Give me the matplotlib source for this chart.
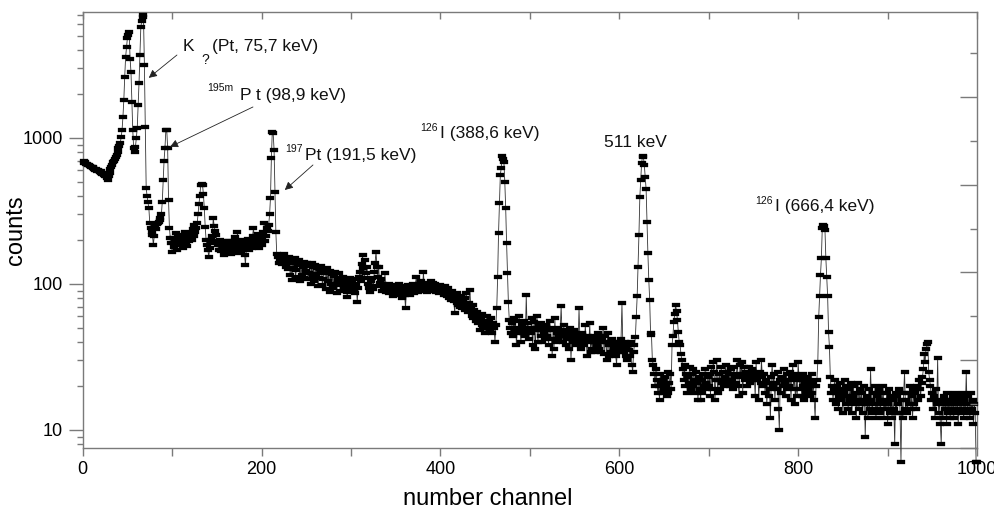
import numpy as np
import matplotlib
matplotlib.use("Agg")
import matplotlib.pyplot as plt
from matplotlib.path import Path
from matplotlib.ticker import LogLocator, NullFormatter, MultipleLocator, FixedLocator

plt.rcParams['font.family'] = ['Liberation Sans', 'DejaVu Sans']

counts = [
    690, 676, 684, 668, 660, 652, 655, 640, 633, 628,
    622, 630, 612, 604, 610, 598, 604, 590, 584, 592,
    578, 570, 576, 560, 552, 545, 532, 518, 548, 576,
    610, 632, 655, 685, 700, 718, 742, 768, 800, 850,
    880, 920, 1010, 1130, 1390, 1820, 2620, 3580, 4200, 4850,
    5100, 5300, 3500, 2830, 1760, 1130, 850, 800, 870, 1000,
    1170, 1680, 2380, 3700, 5750, 6300, 7000, 6700, 3160, 1190,
    455, 400, 365, 330, 262, 242, 228, 216, 185, 212,
    254, 238, 258, 262, 266, 272, 283, 300, 365, 515,
    700, 855, 1130, 1130, 855, 376, 240, 206, 190, 166,
    206, 180, 196, 222, 188, 172, 214, 200, 184, 218,
    196, 176, 208, 226, 192, 204, 182, 216, 198, 210,
    224, 200, 236, 254, 212, 228, 242, 260, 300, 353,
    400, 477, 480, 477, 410, 330, 246, 200, 185, 170,
    153, 176, 191, 200, 214, 283, 250, 230, 216, 196,
    185, 172, 200, 185, 168, 192, 176, 158, 180, 196,
    163, 184, 170, 196, 178, 160, 188, 172, 198, 210,
    182, 164, 227, 190, 176, 200, 168, 184, 172, 194,
    158, 135, 176, 190, 204, 170, 186, 198, 176, 214,
    242, 196, 182, 208, 188, 220, 176, 200, 214, 186,
    206, 226, 262, 196, 214, 242, 230, 254, 300, 390,
    730, 1100, 1080, 830, 425, 227, 160, 153, 140, 158,
    146, 150, 136, 152, 160, 138, 130, 148, 142, 126,
    152, 115, 140, 106, 146, 128, 150, 112, 124, 142,
    134, 146, 104, 138, 115, 130, 142, 110, 136, 122,
    140, 108, 118, 132, 100, 138, 112, 130, 104, 134,
    116, 128, 96, 110, 126, 118, 132, 98, 108, 124,
    120, 92, 128, 104, 118, 88, 122, 100, 116, 94,
    114, 120, 98, 86, 110, 104, 118, 90, 108, 100,
    112, 94, 106, 100, 88, 81, 102, 96, 110, 92,
    104, 98, 90, 108, 86, 100, 75, 94, 112, 120,
    104, 136, 158, 128, 110, 146, 118, 131, 100, 94,
    88, 104, 96, 110, 92, 120, 140, 166, 131, 112,
    130, 102, 96, 108, 90, 100, 94, 119, 88, 98,
    92, 86, 100, 94, 88, 96, 82, 90, 98, 86,
    94, 84, 90, 100, 86, 92, 80, 96, 88, 84,
    68, 92, 86, 98, 90, 84, 96, 88, 100, 92,
    86, 98, 112, 94, 88, 100, 92, 104, 96, 90,
    121, 96, 102, 94, 88, 100, 96, 92, 104, 98,
    90, 102, 94, 100, 88, 96, 92, 86, 98, 90,
    94, 88, 92, 84, 96, 90, 82, 88, 94, 80,
    86, 78, 90, 84, 76, 63, 82, 74, 86, 72,
    78, 70, 82, 68, 76, 72, 66, 80, 87, 70,
    64, 74, 91, 68, 60, 72, 58, 66, 62, 56,
    64, 54, 60, 48, 58, 52, 62, 50, 56, 46,
    54, 60, 50, 56, 48, 52, 58, 46, 54, 50,
    40, 52, 68, 112, 223, 359, 558, 623, 753, 720,
    685, 500, 330, 191, 119, 75, 57, 50, 46, 54,
    44, 58, 48, 56, 38, 50, 46, 60, 48, 40,
    52, 46, 56, 50, 44, 84, 48, 54, 42, 50,
    46, 58, 38, 48, 55, 36, 50, 60, 40, 52,
    48, 44, 54, 40, 50, 46, 42, 52, 44, 48,
    38, 56, 50, 42, 32, 48, 36, 58, 40, 46,
    42, 50, 44, 48, 71, 46, 40, 52, 44, 38,
    48, 42, 46, 36, 50, 30, 44, 40, 48, 42,
    46, 38, 44, 40, 68, 42, 36, 46, 40, 44,
    38, 52, 42, 32, 44, 40, 54, 34, 42, 36,
    44, 40, 34, 42, 38, 46, 36, 40, 44, 34,
    42, 50, 33, 44, 40, 30, 46, 38, 32, 40,
    34, 42, 38, 36, 40, 32, 28, 38, 34, 40,
    36, 42, 74, 38, 34, 40, 32, 36, 30, 38,
    35, 32, 40, 28, 25, 34, 38, 43, 59, 82,
    131, 217, 395, 515, 675, 753, 740, 654, 540, 447,
    266, 163, 107, 78, 46, 45, 30, 28, 24, 20,
    26, 22, 18, 20, 16, 24, 21, 18, 22, 19,
    23, 20, 17, 25, 18, 21, 24, 19, 38, 44,
    55, 62, 72, 65, 57, 47, 40, 38, 33, 30,
    26, 22, 28, 20, 24, 18, 23, 21, 27, 19,
    24, 20, 26, 22, 18, 25, 21, 16, 23, 19,
    16, 22, 18, 24, 20, 26, 21, 19, 23, 20,
    24, 17, 27, 19, 29, 25, 16, 22, 30, 18,
    22, 24, 19, 27, 21, 25, 20, 23, 28, 22,
    25, 21, 24, 20, 26, 22, 19, 27, 23, 21,
    24, 30, 20, 17, 28, 23, 29, 18, 24, 27,
    22, 25, 20, 23, 27, 21, 24, 26, 22, 25,
    23, 17, 29, 22, 24, 16, 25, 21, 30, 23,
    20, 24, 18, 22, 15, 21, 17, 19, 12, 23,
    28, 20, 24, 16, 21, 19, 25, 14, 10, 22,
    18, 23, 20, 26, 21, 17, 24, 19, 22, 20,
    25, 16, 23, 28, 19, 24, 15, 22, 17, 29,
    23, 19, 22, 17, 24, 20, 16, 21, 18, 23,
    19, 22, 17, 20, 24, 18, 21, 16, 12, 20,
    22, 29, 59, 82, 115, 150, 242, 254, 250, 235,
    150, 112, 82, 47, 37, 23, 18, 20, 16, 19,
    22, 15, 18, 20, 14, 17, 21, 16, 19, 13,
    18, 22, 15, 20, 17, 14, 19, 16, 21, 13,
    17, 20, 15, 18, 12, 16, 21, 14, 19, 15,
    18, 13, 16, 20, 9, 15, 17, 12, 19, 14,
    26, 16, 13, 18, 15, 20, 12, 17, 14, 19,
    16, 13, 18, 15, 20, 12, 16, 14, 18, 11,
    15, 19, 13, 17, 12, 16, 14, 8, 18, 13,
    17, 15, 19, 13, 6, 16, 12, 18, 25, 14,
    16, 13, 18, 15, 20, 14, 17, 12, 19, 15,
    18, 14, 20, 16, 22, 19, 17, 21, 23, 26,
    33, 29, 36, 39, 40, 25, 22, 20, 16, 18,
    14, 17, 12, 19, 15, 31, 13, 16, 11, 8,
    15, 12, 17, 14, 16, 11, 18, 13, 15, 12,
    16, 14, 17, 12, 18, 15, 13, 16, 11, 14,
    17, 13, 15, 18, 12, 16, 14, 25, 13, 17,
    15, 12, 18, 14, 16, 11, 15, 13, 6, 6,
]
channels = np.arange(1, len(counts) + 1)

x_ticks = [0, 200, 400, 600, 800, 1000]
y_ticks = [10, 100, 1000]

fig = plt.figure(figsize=(9.95, 5.16), dpi=100)
ax = fig.add_axes([0.0831, 0.1316, 0.8988, 0.8451])

# marcador rectangular algo mas ancho que alto
rect = Path([(-1.5, -1.0), (1.5, -1.0), (1.5, 1.0), (-1.5, 1.0), (-1.5, -1.0)],
            [Path.MOVETO, Path.LINETO, Path.LINETO, Path.LINETO, Path.CLOSEPOLY])

ax.plot(channels, counts, color='#333333', linewidth=0.6, marker=rect,
        markersize=5.2, markerfacecolor='black', markeredgecolor='black',
        markeredgewidth=0.2, clip_on=False, zorder=3)

ax.set_yscale('log')
ax.set_xlim(0, 1000)
ax.set_ylim(7.5, 7290)

ax.set_xticks(x_ticks)
ax.set_xticklabels([str(t) for t in x_ticks])
ax.xaxis.set_minor_locator(MultipleLocator(100))
ax.set_yticks(y_ticks)
ax.set_yticklabels([str(t) for t in y_ticks])
ax.yaxis.set_minor_locator(LogLocator(base=10, subs=np.arange(2, 10)))
ax.yaxis.set_minor_formatter(NullFormatter())

gris = '#7a7a7a'
for s in ax.spines.values():
    s.set_color(gris)
    s.set_linewidth(1.0)

ax.tick_params(axis='y', which='major', direction='out', length=10, width=1.0,
               color=gris, labelsize=13, pad=4, right=False)
ax.tick_params(axis='y', which='minor', direction='out', length=4, width=1.0,
               color=gris, right=False)
ax.tick_params(axis='x', which='both', direction='out', length=6, width=1.0,
               color=gris, labelsize=13, pad=3, top=False)

# ticks superiores (cada 100 canales, hacia dentro)
ax_top = ax.twiny()
ax_top.set_xlim(0, 1000)
ax_top.xaxis.set_major_locator(MultipleLocator(100))
ax_top.tick_params(axis='x', direction='in', length=5, width=1.0, color=gris,
                   labeltop=False, top=True, bottom=False)
for s in ax_top.spines.values():
    s.set_visible(False)

# ticks del eje derecho (lineales, hacia dentro)
ax_der = ax.twinx()
ax_der.set_ylim(0, 4.966)
ax_der.yaxis.set_major_locator(FixedLocator([0, 1, 2, 3, 4]))
ax_der.yaxis.set_minor_locator(FixedLocator([0.5, 1.5, 2.5, 3.5, 4.5]))
ax_der.tick_params(axis='y', which='major', direction='in', length=12, width=1.0,
                   color=gris, labelright=False)
ax_der.tick_params(axis='y', which='minor', direction='in', length=5, width=1.0,
                   color=gris)
for s in ax_der.spines.values():
    s.set_visible(False)

ax.set_xlabel('number channel', fontsize=17)
ax.xaxis.set_label_coords(0.453, -0.0915)
ax.set_ylabel('counts', fontsize=17)
ax.yaxis.set_label_coords(-0.0623, 0.5)

# etiquetas de picos
tc = '#111111'
ax.text(112, 4200, 'K', fontsize=12.5, color=tc, va='center', ha='left')
ax.text(133, 3420, '?', fontsize=10, color=tc, va='center', ha='left')
ax.text(145, 4200, '(Pt, 75,7 keV)', fontsize=12.5, color=tc, va='center', ha='left')
ax.annotate('', xy=(73.9, 2580), xytext=(105.4, 3700),
            arrowprops=dict(arrowstyle='-|>', color='#222222', lw=0.6,
                            mutation_scale=12, shrinkA=0, shrinkB=0))

ax.text(139, 2200, '195m', fontsize=7.5, color=tc, va='center', ha='left')
ax.text(176, 1940, 'P t (98,9 keV)', fontsize=12.5, color=tc, va='center', ha='left')
ax.annotate('', xy=(97.6, 868), xytext=(190.4, 1630),
            arrowprops=dict(arrowstyle='-|>', color='#222222', lw=0.6,
                            mutation_scale=12, shrinkA=0, shrinkB=0))

ax.text(226, 841, '197', fontsize=7.5, color=tc, va='center', ha='left')
ax.text(248.7, 753, 'Pt (191,5 keV)', fontsize=12.5, color=tc, va='center', ha='left')
ax.annotate('', xy=(226, 440), xytext=(257.5, 653),
            arrowprops=dict(arrowstyle='-|>', color='#222222', lw=0.6,
                            mutation_scale=12, shrinkA=0, shrinkB=0))

ax.text(377, 1170, '126', fontsize=7.5, color=tc, va='center', ha='left')
ax.text(400, 1065, 'I (388,6 keV)', fontsize=12.5, color=tc, va='center', ha='left')

ax.text(583, 924, '511 keV', fontsize=12.5, color=tc, va='center', ha='left')

ax.text(752, 370, '126', fontsize=7.5, color=tc, va='center', ha='left')
ax.text(774, 337, 'I (666,4 keV)', fontsize=12.5, color=tc, va='center', ha='left')

fig.savefig('out.png', dpi=100)
